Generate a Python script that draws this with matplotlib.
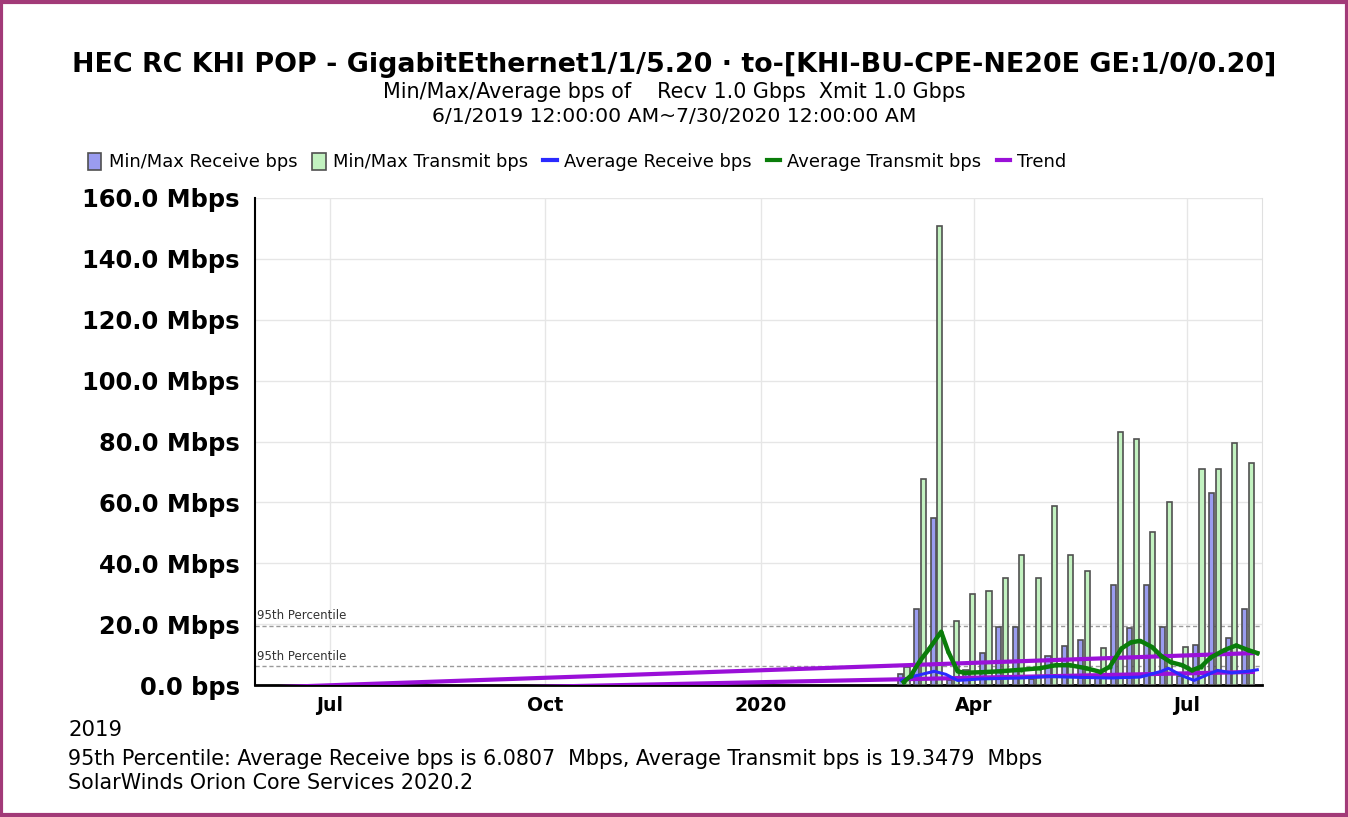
import numpy as np
import pandas as pd
import matplotlib
matplotlib.use('Agg')
import matplotlib.pyplot as plt
import matplotlib.dates as mdates
from matplotlib.patches import Patch, Rectangle
from matplotlib.lines import Line2D
from matplotlib.transforms import blended_transform_factory

plt.rcParams['font.family'] = ['DejaVu Sans']

# ---- data ----------------------------------------------------------------
week_dates = pd.date_range('2020-03-02', periods=22, freq='7D')
rx_max = [3.5, 25, 55, 1.5, 5, 10.5, 19, 19, 2, 9.5, 12.8, 14.8, 3, 32.8,
          18.7, 32.8, 19, 3, 13.3, 63, 15.4, 25]
tx_max = [6, 67.6, 150.8, 21, 30, 31, 35, 42.7, 35, 58.8, 42.7, 37.5, 12,
          83, 80.8, 50.3, 60, 12.5, 71, 71, 79.6, 72.8]

tx_avg_dates = pd.to_datetime([
    '2020-03-02', '2020-03-05', '2020-03-09', '2020-03-13', '2020-03-18',
    '2020-03-21', '2020-03-25', '2020-03-28', '2020-04-04', '2020-04-12',
    '2020-04-21', '2020-04-29', '2020-05-06', '2020-05-12', '2020-05-19',
    '2020-05-25', '2020-05-29', '2020-06-03', '2020-06-07', '2020-06-11',
    '2020-06-16', '2020-06-20', '2020-06-24', '2020-06-29', '2020-07-03',
    '2020-07-07', '2020-07-11', '2020-07-17', '2020-07-22', '2020-07-27',
    '2020-07-31'])
tx_avg = [1.0, 3, 8, 12, 17.5, 11, 4.5, 4, 4.2, 4.5, 5, 5.5, 6.5, 6.5, 5.5,
          4.3, 6, 12, 14, 14.5, 12.5, 9.5, 7.5, 6.5, 4.8, 6, 9, 11.5, 13,
          11.5, 10.5]

rx_avg_dates = pd.to_datetime([
    '2020-03-01', '2020-03-07', '2020-03-15', '2020-03-20', '2020-03-25',
    '2020-04-04', '2020-04-21', '2020-05-03', '2020-05-16', '2020-05-29',
    '2020-06-11', '2020-06-20', '2020-06-23', '2020-06-29', '2020-07-04',
    '2020-07-14', '2020-07-20', '2020-07-27', '2020-07-31'])
rx_avg = [1.5, 3, 4.5, 3.5, 1.5, 2, 2.3, 2.8, 2.5, 2.3, 2.6, 4.5, 5.5, 3,
          1.5, 4.8, 4, 4.5, 5]

trend_dates = pd.to_datetime(['2019-06-01', '2020-07-30'])
tx_trend = [-0.9, 10.5]
rx_trend = [-2.5, 4.3]

p95_rx = 6.0807
p95_tx = 19.3479

y_ticks = [0, 20, 40, 60, 80, 100, 120, 140, 160]
y_labels = ['0.0 bps'] + [f'{v:.1f} Mbps' for v in y_ticks[1:]]
x_ticks = pd.to_datetime(['2019-07-01', '2019-10-01', '2020-01-01',
                          '2020-04-01', '2020-07-01'])
x_labels = ['Jul', 'Oct', '2020', 'Apr', 'Jul']

# ---- colours --------------------------------------------------------------
C_RX_BAR = '#9a9cf0'
C_TX_BAR = '#c2f2c0'
C_EDGE = '#505050'
C_RX = '#2a2aff'
C_TX = '#0a7d0a'
C_TREND = '#9a10d8'

fig = plt.figure(figsize=(13.48, 8.17), dpi=100)
ax = fig.add_axes([255 / 1348, 1 - 685 / 817, (1262 - 255) / 1348,
                   (685 - 198) / 817])

wd = mdates.date2num(week_dates)
ax.bar(wd - 1.4, rx_max, width=2.2, color=C_RX_BAR, edgecolor=C_EDGE,
       linewidth=1.2, zorder=3)
ax.bar(wd + 1.4, tx_max, width=2.2, color=C_TX_BAR, edgecolor=C_EDGE,
       linewidth=1.2, zorder=3)

ax.plot(trend_dates, tx_trend, color=C_TREND, lw=3, zorder=4,
        solid_capstyle='butt')
ax.plot(trend_dates, rx_trend, color=C_TREND, lw=3, zorder=4,
        solid_capstyle='butt')
ax.plot(rx_avg_dates, rx_avg, color=C_RX, lw=2.2, zorder=5)
ax.plot(tx_avg_dates, tx_avg, color=C_TX, lw=3.2, marker='.', ms=4,
        zorder=6)

# 95th percentile markers
tr = blended_transform_factory(ax.transAxes, ax.transData)
for v in (p95_tx, p95_rx):
    ax.axhline(v, color='#9a9a9a', lw=1, ls=(0, (3, 2)), zorder=2)
    ax.text(0.002, v + 1.2, '95th Percentile', transform=tr, fontsize=8.5,
            color='#333333', va='bottom', ha='left', zorder=7)

ax.set_xlim(pd.Timestamp('2019-05-30'), pd.Timestamp('2020-08-02'))
ax.set_ylim(0, 160)
ax.set_yticks(y_ticks)
ax.set_yticklabels(y_labels, fontweight='bold')
ax.set_xticks(x_ticks)
ax.set_xticklabels(x_labels, fontweight='bold')
ax.tick_params(axis='y', length=0, pad=11, labelsize=17.4)
ax.tick_params(axis='x', length=0, pad=8, labelsize=13.6)
ax.grid(True, color='#e6e6e6', lw=1, zorder=0)
ax.set_axisbelow(True)
ax.spines['top'].set_visible(False)
ax.spines['right'].set_color('#e0e0e0')
ax.spines['left'].set_linewidth(1.5)
ax.spines['bottom'].set_linewidth(2)

# ---- titles ---------------------------------------------------------------
fig.text(0.5, 1 - 65 / 817,
         'HEC RC KHI POP - GigabitEthernet1/1/5.20 \u00b7 to-[KHI-BU-CPE-NE20E GE:1/0/0.20]',
         ha='center', va='center', fontsize=19.4, fontweight='bold')
fig.text(0.5, 1 - 92 / 817,
         'Min/Max/Average bps of    Recv 1.0 Gbps  Xmit 1.0 Gbps',
         ha='center', va='center', fontsize=14.9)
fig.text(0.5, 1 - 116 / 817, '6/1/2019 12:00:00 AM~7/30/2020 12:00:00 AM',
         ha='center', va='center', fontsize=14.7)

handles = [
    Patch(facecolor=C_RX_BAR, edgecolor=C_EDGE, lw=1.2),
    Patch(facecolor=C_TX_BAR, edgecolor=C_EDGE, lw=1.2),
    Line2D([], [], color=C_RX, lw=3),
    Line2D([], [], color=C_TX, lw=3),
    Line2D([], [], color=C_TREND, lw=3),
]
labels = ['Min/Max Receive bps', 'Min/Max Transmit bps',
          'Average Receive bps', 'Average Transmit bps', 'Trend']
fig.legend(handles, labels, loc='center left',
           bbox_to_anchor=(79 / 1348, 1 - 162 / 817), ncol=5, frameon=False,
           fontsize=12.9, handlelength=0.75, handleheight=1.1,
           handletextpad=0.4, columnspacing=0.85, borderpad=0)

fig.text(68 / 1348, 1 - 730 / 817, '2019', ha='left', va='center',
         fontsize=15.3)
fig.text(68 / 1348, 1 - 759 / 817,
         '95th Percentile: Average Receive bps is 6.0807  Mbps, '
         'Average Transmit bps is 19.3479  Mbps',
         ha='left', va='center', fontsize=14.9)
fig.text(68 / 1348, 1 - 783 / 817, 'SolarWinds Orion Core Services 2020.2',
         ha='left', va='center', fontsize=14.9)

fig.patches.append(Rectangle((0.001, 0.002), 0.998, 0.996,
                             transform=fig.transFigure, fill=False,
                             edgecolor='#a23a78', lw=3))

fig.savefig('out.png', dpi=100)
